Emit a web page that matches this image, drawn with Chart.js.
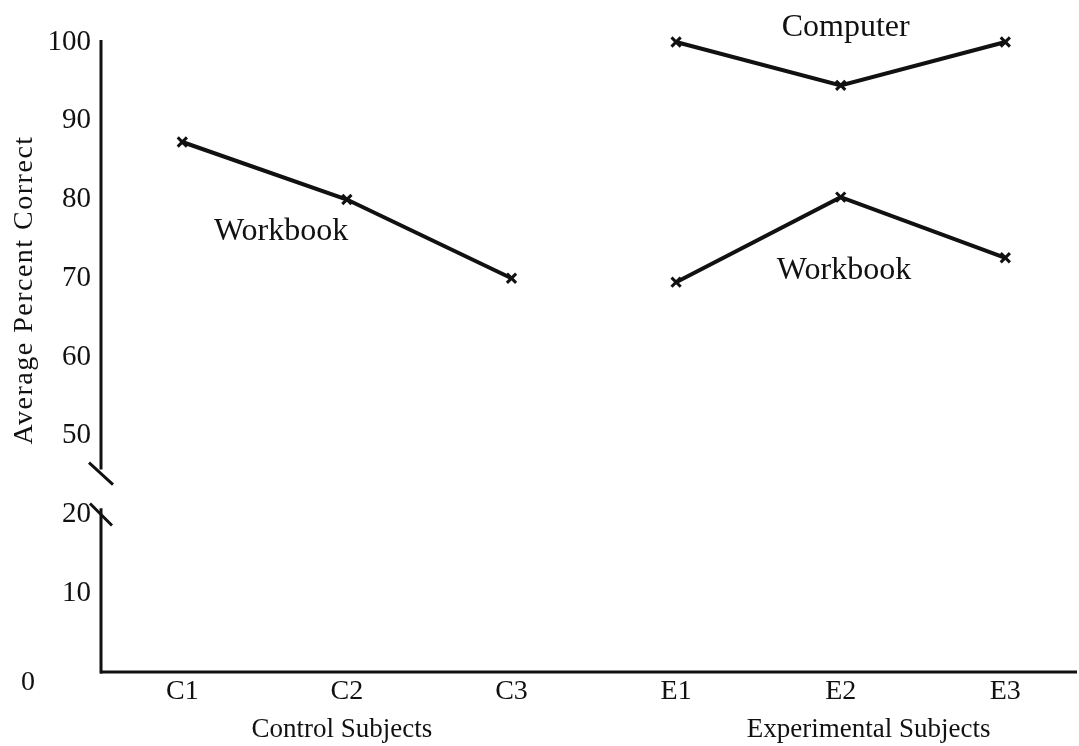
<!DOCTYPE html>
<html>
<head>
<meta charset="utf-8">
<script src="https://cdn.jsdelivr.net/npm/chart.js@4.4.0/dist/chart.umd.min.js"></script>
<style>
  html,body{margin:0;padding:0;background:#fff;}
  #wrap{width:1079px;height:746px;position:relative;}
</style>
</head>
<body>
<div id="wrap"><canvas id="chart"></canvas></div>
<script>
// ---- data ----
const subjects       = ['C1','C2','C3','E1','E2','E3'];
const controlBook    = [87.3, 80.0, 70.0];      // C1..C3, workbook
const expComputer    = [100.0, 94.5, 100.0];    // E1..E3, computer
const expWorkbook    = [69.5, 80.3, 72.6];      // E1..E3, workbook
const yTickValues    = [0, 10, 20, 50, 60, 70, 80, 90, 100];

// broken axis: 20 -> 50 collapsed into one step
const BREAK_LOW = 20, BREAK_HIGH = 50, GAP = BREAK_HIGH - BREAK_LOW - 10;
const toDisp   = v => v >= BREAK_HIGH ? v - GAP : v;
const fromDisp = d => d > BREAK_LOW ? d + GAP : d;

const FONT = "'Liberation Serif','Times New Roman',serif";
const INK  = '#111';

function pts(vals, startIdx){
  return vals.map((v,i)=>({x:startIdx+i+1, y:toDisp(v)}));
}

// free text on the figure (data coords: x = subject index, y = real percent)
const notes = [
  {text:'Computer', x:5.03, y:101.8},
  {text:'Workbook', x:1.6,  y:75.9},
  {text:'Workbook', x:5.02, y:71.0}
];
const groupLabels = [
  {text:'Control Subjects',      x:1.97},
  {text:'Experimental Subjects', x:5.17}
];

const figurePlugin = {
  id:'figure',
  afterDraw(chart){
    const {ctx, chartArea:ca, scales:{x,y}} = chart;
    ctx.save();
    ctx.strokeStyle = INK;
    ctx.lineCap = 'butt';
    ctx.lineWidth = 3;
    const ax = ca.left + 1;

    // x axis runs on to the edge of the page
    ctx.beginPath();
    ctx.moveTo(ca.left, ca.bottom); ctx.lineTo(chart.width - 2, ca.bottom);
    ctx.stroke();

    // y axis with a break between 20 and 50
    const upEnd   = y.getPixelForValue(25.7);
    const upMid   = y.getPixelForValue(25.2);
    const lowMid  = y.getPixelForValue(20);
    const lowBeg  = y.getPixelForValue(20.8);
    ctx.beginPath();
    ctx.moveTo(ax, ca.top - 2); ctx.lineTo(ax, upEnd);
    ctx.moveTo(ax, lowBeg);     ctx.lineTo(ax, ca.bottom + 1.5);
    ctx.stroke();
    ctx.beginPath();
    ctx.moveTo(ax-12, upMid-11);  ctx.lineTo(ax+12, upMid+11);
    ctx.moveTo(ax-11, lowMid-11); ctx.lineTo(ax+11, lowMid+11);
    ctx.stroke();

    ctx.fillStyle = INK;
    ctx.textAlign = 'center';
    ctx.textBaseline = 'middle';

    // zero label sits off to the left, below the axis
    ctx.font = `28px ${FONT}`;
    ctx.fillText('0', 28, y.getPixelForValue(0) + 11);

    // notes
    ctx.font = `32px ${FONT}`;
    notes.forEach(n=>ctx.fillText(n.text, x.getPixelForValue(n.x), y.getPixelForValue(toDisp(n.y))));

    // group labels under the x axis
    ctx.font = `27px ${FONT}`;
    groupLabels.forEach(g=>ctx.fillText(g.text, x.getPixelForValue(g.x), 730));

    // y axis title (letter-spaced like the scan)
    ctx.font = `28px ${FONT}`;
    ctx.letterSpacing = '1.5px';
    ctx.translate(25, 290);
    ctx.rotate(-Math.PI/2);
    ctx.fillText('Average Percent Correct', 0, 0);
    ctx.restore();
  }
};

const lineStyle = {
  borderColor:INK, borderWidth:4,
  pointStyle:'crossRot', pointRadius:6.5, pointBorderWidth:3,
  pointBorderColor:INK, pointBackgroundColor:INK,
  tension:0, clip:false, fill:false
};

new Chart(document.getElementById('chart'), {
  type:'line',
  data:{
    datasets:[
      {label:'Control Workbook',      data:pts(controlBook,0), ...lineStyle},
      {label:'Experimental Computer', data:pts(expComputer,3), ...lineStyle},
      {label:'Experimental Workbook', data:pts(expWorkbook,3), ...lineStyle}
    ]
  },
  options:{
    responsive:true, maintainAspectRatio:false, animation:false,
    layout:{padding:{top:42,right:0,left:0,bottom:0}},
    plugins:{legend:{display:false}, tooltip:{enabled:false}},
    scales:{
      x:{
        type:'linear', min:0.5, max:6.39,
        afterBuildTicks:s=>{ s.ticks = subjects.map((_,i)=>({value:i+1})); },
        afterFit:s=>{ s.height = 74; },
        grid:{display:false, drawTicks:false},
        border:{display:false},
        ticks:{
          color:INK, font:{family:FONT, size:28}, padding:3, maxRotation:0, autoSkip:false,
          callback:v=>subjects[v-1] ?? ''
        }
      },
      y:{
        type:'linear', min:0, max:toDisp(100),
        afterBuildTicks:s=>{ s.ticks = yTickValues.map(v=>({value:toDisp(v)})); },
        afterFit:s=>{ s.width = 100; },
        grid:{display:false, drawTicks:false},
        border:{display:false},
        ticks:{
          color:INK, font:{family:FONT, size:29}, padding:9, autoSkip:false,
          callback:v=> v === 0 ? '' : String(fromDisp(v))
        }
      }
    }
  },
  plugins:[figurePlugin]
});
</script>
</body>
</html>
